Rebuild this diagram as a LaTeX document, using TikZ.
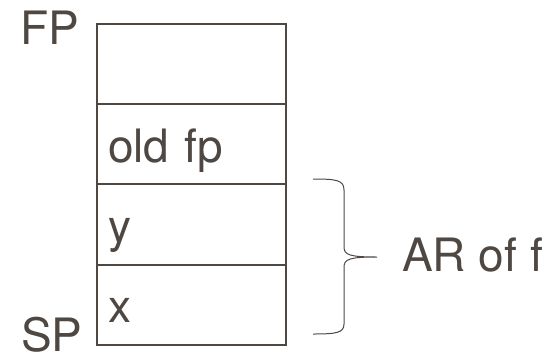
\documentclass[tikz,border=0pt]{standalone}
\usepackage{fontspec}
\setmainfont{TeX Gyre Heros}
\usetikzlibrary{positioning}

\definecolor{ink}{RGB}{78,71,66}

\tikzset{
  cell/.style={draw=ink, line width=2pt, text=ink, rectangle, outer sep=0pt,
    minimum width=189pt, minimum height=80.25pt, inner xsep=11pt, inner ysep=0pt,
    text width=167pt, align=left, text height=58.25pt, text depth=22pt,
    font=\fontsize{46}{46}\selectfont},
  reg/.style={text=ink, inner sep=0pt, anchor=base west, font=\fontsize{46}{46}\selectfont}
}

\begin{document}
\begin{tikzpicture}[x=1pt,y=-1pt]
	\useasboundingbox (0,0) rectangle (557,360);
	% stack cells
	\node[cell] (top) at (191.5,64.1) {};
	\node[cell, below=0pt of top] (oldfp) {old fp};
	\node[cell, below=0pt of oldfp] (y) {y};
	\node[cell, below=0pt of y] (x) {x};
	% pointers
	\node[reg] (fp) at (20,44) {FP};
	\node[reg] (sp) at (21,351) {SP};
	% brace
	\coordinate (btop) at (313,179);
	\coordinate (bbot) at (313,334);
	\coordinate (btip) at (377,257);
	\draw[ink, line width=1pt] (btop) .. controls (336,179) and (344,180) .. (344,190)
		-- (344,247) .. controls (344,255) and (350,257) .. (btip)
		.. controls (350,257) and (344,259) .. (344,267)
		-- (344,324) .. controls (344,333) and (336,334) .. (bbot);
	\node[reg] (ar) at (402,271) {AR of f};
\end{tikzpicture}
\end{document}
